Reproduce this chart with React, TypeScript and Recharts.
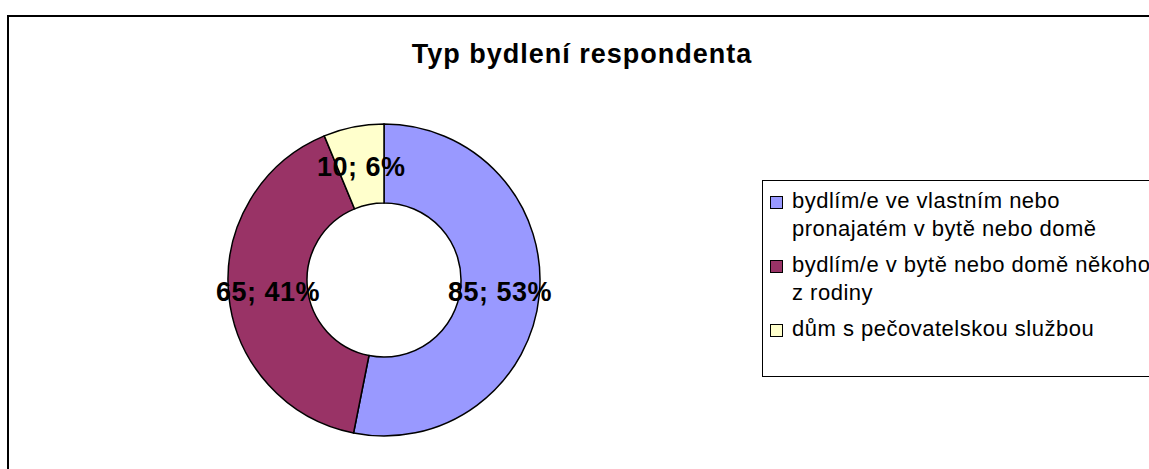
import { PieChart, Pie, Cell, Legend } from "recharts";

const categories = [
  "bydlím/e ve vlastním nebo pronajatém v bytě nebo domě",
  "bydlím/e v bytě nebo domě někoho z rodiny",
  "dům s pečovatelskou službou",
];
const counts = [85, 65, 10];
const colors = ["#9999FF", "#993366", "#FFFFCC"];

const total = counts.reduce((s, v) => s + v, 0);
const data = categories.map((name, i) => ({ name, value: counts[i] }));

const FONT = "'Liberation Sans', Arial, sans-serif";
const RAD = Math.PI / 180;

const renderLabel = (props: any) => {
  const { cx, cy, midAngle, innerRadius, outerRadius, value } = props;
  const r = (innerRadius + outerRadius) / 2;
  const x = cx + r * Math.cos(-midAngle * RAD);
  const y = cy + r * Math.sin(-midAngle * RAD) + 1;
  const pct = Math.round((value / total) * 100);
  return (
    <text
      x={x}
      y={y}
      textAnchor="middle"
      dominantBaseline="central"
      fill="#000"
      fontFamily={FONT}
      fontWeight="bold"
      fontSize={27}
      style={{ letterSpacing: 0.5 }}
    >
      {`${value}; ${pct}%`}
    </text>
  );
};

const renderLegend = () => (
  <div
    style={{
      width: 420,
      height: 197,
      border: "1.5px solid #000",
      boxSizing: "border-box",
      padding: "6px 0 0 7px",
      fontFamily: FONT,
      fontSize: 22,
      lineHeight: "28px",
      letterSpacing: 0.5,
      color: "#000",
      background: "#fff",
    }}
  >
    {data.map((d, i) => (
      <div key={d.name} style={{ display: "flex", alignItems: "flex-start", marginBottom: 8 }}>
        <span
          style={{
            display: "inline-block",
            width: 13,
            height: 13,
            marginTop: 9,
            marginRight: 9,
            flex: "none",
            boxSizing: "border-box",
            background: colors[i],
            border: "1px solid #000",
          }}
        />
        <span style={{ width: 362 }}>{d.name}</span>
      </div>
    ))}
  </div>
);

export default function App() {
  return (
    <div
      style={{
        position: "absolute",
        left: 0,
        top: 0,
        width: 1149,
        height: 469,
        overflow: "hidden",
        background: "#fff",
      }}
    >
      <div
        style={{
          position: "absolute",
          left: 7,
          top: 15,
          width: 1200,
          height: 500,
          border: "2px solid #000",
          boxSizing: "border-box",
        }}
      />
      <div
        style={{
          position: "absolute",
          left: 0,
          top: 38,
          width: 1164,
          textAlign: "center",
          fontFamily: FONT,
          fontWeight: "bold",
          fontSize: 27,
          lineHeight: "32px",
          letterSpacing: 1,
          color: "#000",
        }}
      >
        Typ bydlení respondenta
      </div>
      <div style={{ position: "absolute", left: 0, top: 0 }}>
        <PieChart width={1149} height={469} margin={{ top: 0, right: 0, bottom: 0, left: 0 }}>
          <Pie
            data={data}
            dataKey="value"
            nameKey="name"
            cx={384}
            cy={280}
            innerRadius={77}
            outerRadius={156}
            startAngle={90}
            endAngle={-270}
            stroke="#000"
            strokeWidth={1.5}
            label={renderLabel}
            labelLine={false}
            isAnimationActive={false}
          >
            {data.map((d, i) => (
              <Cell key={d.name} fill={colors[i]} />
            ))}
          </Pie>
          <Legend
            content={renderLegend}
            layout="vertical"
            wrapperStyle={{ position: "absolute", left: 762, top: 180, width: 420 }}
          />
        </PieChart>
      </div>
    </div>
  );
}
